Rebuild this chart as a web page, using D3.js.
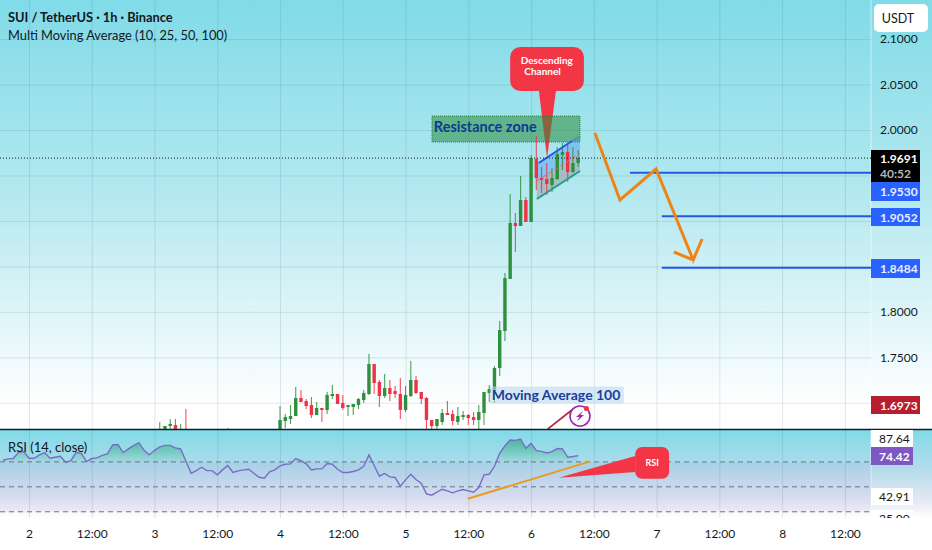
<!DOCTYPE html>
<html>
<head>
<meta charset="utf-8">
<script src="https://cdn.jsdelivr.net/npm/d3@7"></script>
<style>
  html, body { margin: 0; padding: 0; background: #fff; }
  svg { display: block; }
  text { font-family: Lato, sans-serif; fill: #131722; }
</style>
</head>
<body>
<svg id="chart" width="932" height="550"></svg>
<script>
// hourly candles, hour 0 = day 2 00:00
const candleHours = [25, 26, 27, 28, 29, 30, 38,
  48, 49, 50, 51, 52, 53, 54, 55, 56, 57, 58, 59, 60, 61, 62, 63, 64, 65, 66, 67, 68, 69, 70, 71, 72, 73, 74, 75, 76,
  77, 78, 79, 80, 81, 82, 83, 84, 85, 86, 87, 88, 89, 90, 91, 92, 93, 94, 95, 96, 97, 98, 99, 100, 101, 102, 103, 104, 105];
const candleOpen = [1.6656, 1.6645, 1.6744, 1.6755, 1.6656, 1.6689, 1.6656,
  1.6645, 1.6799, 1.6821, 1.6854, 1.7052, 1.7019, 1.6975, 1.6865, 1.6942, 1.692, 1.7074, 1.7096, 1.6997, 1.6953, 1.6953, 1.6975, 1.703, 1.7096, 1.7426, 1.7228, 1.7074, 1.7162, 1.7129, 1.7096, 1.692, 1.7074, 1.725, 1.7118, 1.7052,
  1.681, 1.6744, 1.6788, 1.6887, 1.6876, 1.6788, 1.6843, 1.6865, 1.6843, 1.681, 1.6887, 1.7107, 1.7129, 1.7382, 1.7789, 1.8361, 1.8977, 1.8944, 1.923, 1.8988, 1.9681, 1.9472, 1.9461, 1.9395, 1.9461, 1.9725, 1.9758, 1.9538, 1.9637];
const candleHigh = [1.6788, 1.6744, 1.6821, 1.6821, 1.6766, 1.6931, 1.6722,
  1.6964, 1.6876, 1.6975, 1.7173, 1.714, 1.7041, 1.7063, 1.7008, 1.6942, 1.7118, 1.7195, 1.7096, 1.7085, 1.6975, 1.6986, 1.7052, 1.714, 1.7536, 1.7426, 1.725, 1.7316, 1.725, 1.7184, 1.7272, 1.7184, 1.7459, 1.7294, 1.7118, 1.7063,
  1.681, 1.6821, 1.6931, 1.7019, 1.692, 1.6953, 1.6909, 1.6876, 1.6898, 1.6975, 1.7118, 1.7195, 1.7404, 1.7899, 1.8427, 1.9296, 1.9087, 1.9494, 1.9263, 1.9725, 1.9934, 1.9593, 1.9637, 1.9582, 1.9813, 1.9857, 1.9857, 1.9813, 1.978];
const candleLow = [1.6634, 1.6634, 1.6678, 1.6634, 1.6634, 1.6634, 1.6634,
  1.6623, 1.6722, 1.6766, 1.6854, 1.7008, 1.6931, 1.6832, 1.6865, 1.6788, 1.6876, 1.7041, 1.6986, 1.692, 1.6854, 1.6865, 1.6931, 1.6997, 1.7085, 1.7096, 1.6953, 1.7052, 1.7019, 1.7052, 1.6821, 1.6898, 1.7063, 1.7096, 1.6986, 1.67,
  1.67, 1.67, 1.6755, 1.6865, 1.6755, 1.6755, 1.681, 1.6755, 1.6755, 1.6667, 1.6755, 1.7008, 1.6997, 1.7294, 1.7679, 1.8361, 1.8658, 1.8944, 1.8988, 1.8988, 1.934, 1.9307, 1.9285, 1.9318, 1.945, 1.956, 1.9428, 1.9527, 1.9593];
const candleClose = [1.67, 1.6744, 1.6766, 1.6678, 1.67, 1.6656, 1.6689,
  1.681, 1.6843, 1.6854, 1.7052, 1.7008, 1.6964, 1.6865, 1.6942, 1.692, 1.7085, 1.7096, 1.6986, 1.6942, 1.6975, 1.6986, 1.7041, 1.7107, 1.7426, 1.7217, 1.7074, 1.7162, 1.7096, 1.7096, 1.692, 1.7085, 1.725, 1.7107, 1.7041, 1.681,
  1.6744, 1.6821, 1.6887, 1.6865, 1.6799, 1.6854, 1.6865, 1.6832, 1.681, 1.6898, 1.7118, 1.7151, 1.7382, 1.78, 1.8372, 1.8977, 1.8944, 1.923, 1.8988, 1.9692, 1.9472, 1.945, 1.9406, 1.9472, 1.9736, 1.9758, 1.9538, 1.9637, 1.9692];

// rsi, one value per hour from rsiStartHour
const rsiStartHour = -5;
const rsiValues = [71.1, 72.4, 72.7, 77.7, 78.3, 72.9, 72.9, 75.6, 77.5, 72.9, 73.7, 74.5, 69.7, 70.8, 77.7, 76.9, 70.3, 72.7, 73.2, 75.3, 76.4,
  83.6, 83.9, 77.5, 80.4, 83.1, 85.5, 79.3, 75.6, 79.3, 82, 83.3, 83.3, 81.2, 80.4, 70.8, 60.9, 63, 65.7, 63, 63, 59.6, 63.6, 67.1, 61.5, 62.8,
  63.6, 64.1, 60.9, 57.7, 56.9, 62, 63.6, 66.8, 68.1, 68.4, 72.7, 71.1, 68.4, 63.6, 64.4, 64.4, 68.7,
  68.1, 64.1, 61.5, 61.5, 62.3, 63.6, 66.5, 75.6, 67.1, 58.5, 60.7, 58, 57.5, 50.5, 55.6, 60.1, 55.9, 52.9, 44.4, 43.3, 45.7, 48.1, 46.8, 45.2,
  46.8, 47.9, 46.8, 45.7, 49.5, 59.6, 60.1, 66.5, 76.9, 83.1, 87.6, 87.3, 88.4, 80.9, 84.9, 79, 78.5, 77.2, 78.3, 80.7, 80.4, 73.7, 74.3, 75];

const priceTicks = [2.1, 2.05, 2, 1.95, 1.9, 1.85, 1.8, 1.75, 1.7];
const priceTickLabels = ["2.1000", "2.0500", "2.0000", "", "", "", "1.8000", "1.7500", ""];
const timeTicks = [0, 12, 24, 36, 48, 60, 72, 84, 96, 108, 120, 132, 144, 156];
const timeLabels = ["2", "12:00", "3", "12:00", "4", "12:00", "5", "12:00", "6", "12:00", "7", "12:00", "8", "12:00"];
const rsiLevels = [70, 50, 30];

const lastPrice = 1.9691;
const levelPrices = [1.953, 1.9052, 1.8484];
const levelStartHours = [114.9, 121, 121];
// zigzag, last three points are the arrow head
const arrowHours = [108.2, 113, 119.9, 127, 128.7, 127, 123.3];
const arrowPrices = [1.9967, 1.923, 1.9571, 1.857, 1.8801, 1.857, 1.8658];
const channelHours = [97.1, 105.35];
const channelTop = [1.9637, 1.9934];
const channelBottom = [1.9241, 1.9549];
const zoneHours = [77.05, 105.35];
const zonePrices = [2.0154, 1.9868];
const rsiTrendHours = [83.9, 107.3];
const rsiTrendValues = [40.4, 70.4];

const svg = d3.select("#chart"),
    width = 932,
    height = 550,
    paneRight = 871,
    mainBottom = 429,
    rsiBottom = 518;

const x = d3.scaleLinear().domain([0, 100]).range([29, 552]);
const y = d3.scaleLinear().domain([2.143, 1.6711]).range([0, mainBottom]);
const yRsi = d3.scaleLinear().domain([95.6, 25]).range([430, rsiBottom]);

const defs = svg.append("defs");

function addGradient(id, y1, y2, stops) {
    const g = defs.append("linearGradient").attr("id", id)
        .attr("gradientUnits", "userSpaceOnUse")
        .attr("x1", 0).attr("x2", 0).attr("y1", y1).attr("y2", y2);
    stops.forEach(s => g.append("stop").attr("offset", s[0]).attr("stop-color", s[1]).attr("stop-opacity", s[2] === undefined ? 1 : s[2]));
}
addGradient("mainBg", 0, 405, [[0, "#80dbe8"], [0.5, "#b6e9f0"], [0.8, "#e2f6f9"], [1, "#ffffff"]]);
addGradient("rsiBg", 430, rsiBottom, [[0, "#80dbe8"], [0.45, "#b4dcea"], [0.8, "#e4e8f4"], [1, "#ffffff"]]);
addGradient("rsiGreen", 438, 462, [[0, "#26a269", 0.65], [1, "#26a269", 0.05]]);

defs.append("clipPath").attr("id", "mainClip").append("rect")
    .attr("width", paneRight).attr("height", mainBottom);
defs.append("clipPath").attr("id", "aboveSeventy").append("rect")
    .attr("width", paneRight).attr("y", 430).attr("height", yRsi(70) - 430);
defs.append("clipPath").attr("id", "rsiAxisClip").append("rect")
    .attr("x", paneRight).attr("y", 430).attr("width", 61).attr("height", rsiBottom - 430);

svg.append("rect").attr("width", width).attr("height", height).attr("fill", "#fff");
svg.append("rect").attr("width", width).attr("height", mainBottom).attr("fill", "url(#mainBg)");
svg.append("rect").attr("y", 430).attr("width", width).attr("height", rsiBottom - 430).attr("fill", "url(#rsiBg)");

// grid
const gridColor = "rgba(70,110,125,0.16)";
svg.append("g")
    .attr("transform", `translate(0,${rsiBottom})`)
    .call(d3.axisBottom(x).tickValues(timeTicks).tickSize(-rsiBottom).tickFormat(""))
    .call(g => g.select(".domain").remove())
    .call(g => g.selectAll("line").attr("stroke", gridColor));
svg.append("g")
    .call(d3.axisRight(y).tickValues(priceTicks).tickSize(paneRight).tickFormat(""))
    .call(g => g.select(".domain").remove())
    .call(g => g.selectAll("line").attr("stroke", gridColor));
svg.append("line").attr("x1", paneRight).attr("x2", paneRight).attr("y1", 0).attr("y2", rsiBottom)
    .attr("stroke", "rgba(255,255,255,0.55)");

// candles
const candles = candleHours.map((h, i) => ({
    h, open: candleOpen[i], high: candleHigh[i], low: candleLow[i], close: candleClose[i]
}));
const candleColor = d => d.close >= d.open ? "#2f8f3e" : "#ee3348";
const main = svg.append("g").attr("clip-path", "url(#mainClip)");

// callout tail sits under the zone
const tailHours = [97.5, 100.75, 99.05];
const tailPrices = [2.0429, 2.0429, 1.9692];
main.append("polygon")
    .attr("points", tailHours.map((h, i) => [x(h), y(tailPrices[i])].join(",")).join(" "))
    .attr("fill", "#f23645");

// resistance zone
main.append("rect")
    .attr("x", x(zoneHours[0])).attr("y", y(zonePrices[0]))
    .attr("width", x(zoneHours[1]) - x(zoneHours[0]))
    .attr("height", y(zonePrices[1]) - y(zonePrices[0]))
    .attr("fill", "rgba(46,140,60,0.55)")
    .attr("stroke", "#2e8040").attr("stroke-dasharray", "1,1");

// channel fills, upper half blue, lower half grey
const channelMid = [(channelTop[0] + channelBottom[0]) / 2, (channelTop[1] + channelBottom[1]) / 2];
const band = (a, b) => [
    [x(channelHours[0]), y(a[0])], [x(channelHours[1]), y(a[1])],
    [x(channelHours[1]), y(b[1])], [x(channelHours[0]), y(b[0])]
].join(" ");
main.append("polygon").attr("points", band(channelTop, channelMid)).attr("fill", "rgba(66,140,245,0.38)");
main.append("polygon").attr("points", band(channelMid, channelBottom)).attr("fill", "rgba(150,130,130,0.4)");

main.selectAll("line.wick")
    .data(candles)
    .enter().append("line")
    .attr("class", "wick")
    .attr("x1", d => x(d.h)).attr("x2", d => x(d.h))
    .attr("y1", d => y(d.high)).attr("y2", d => y(d.low))
    .attr("stroke", candleColor).attr("stroke-width", 1.1).attr("stroke-opacity", 0.85);
main.selectAll("rect.body")
    .data(candles)
    .enter().append("rect")
    .attr("class", "body")
    .attr("x", d => x(d.h) - 1.7)
    .attr("width", 3.4)
    .attr("y", d => y(Math.max(d.open, d.close)))
    .attr("height", d => Math.max(1, Math.abs(y(d.open) - y(d.close))))
    .attr("fill", candleColor);

// channel lines
main.append("line").attr("x1", x(channelHours[0])).attr("x2", x(channelHours[1]))
    .attr("y1", y(channelMid[0])).attr("y2", y(channelMid[1]))
    .attr("stroke", "#ee5a6a").attr("stroke-width", 1).attr("stroke-dasharray", "4,3");
main.append("line").attr("x1", x(channelHours[0]) + 2).attr("x2", x(channelHours[1]) - 8)
    .attr("y1", y(channelTop[0])).attr("y2", y(channelTop[1] - 0.0055))
    .attr("stroke", "#2457e6").attr("stroke-width", 2);
main.append("line").attr("x1", x(channelHours[1]) - 8).attr("x2", x(channelHours[1]))
    .attr("y1", y(channelTop[1] - 0.0055)).attr("y2", y(channelTop[1]))
    .attr("stroke", "#4f9a9a").attr("stroke-width", 2);
main.append("line").attr("x1", x(channelHours[0])).attr("x2", x(channelHours[1]))
    .attr("y1", y(channelBottom[0])).attr("y2", y(channelBottom[1]))
    .attr("stroke", "#1f9d8a").attr("stroke-width", 2);

// last price
main.append("line").attr("x1", 0).attr("x2", paneRight)
    .attr("y1", y(lastPrice)).attr("y2", y(lastPrice))
    .attr("stroke", "#131722").attr("stroke-width", 1).attr("stroke-dasharray", "1,2");

// target levels
main.selectAll("line.level")
    .data(levelPrices)
    .enter().append("line")
    .attr("class", "level")
    .attr("x1", (d, i) => x(levelStartHours[i])).attr("x2", paneRight)
    .attr("y1", d => y(d)).attr("y2", d => y(d))
    .attr("stroke", "#2457e6").attr("stroke-width", 2);

// orange path
main.append("path")
    .datum(arrowHours.map((h, i) => [h, arrowPrices[i]]))
    .attr("fill", "none")
    .attr("stroke", "#ee8418").attr("stroke-width", 3)
    .attr("d", d3.line().x(d => x(d[0])).y(d => y(d[1])));

// callout box
const boxHours = [92, 106.1];
const boxPrices = [2.0913, 2.0429];
main.append("rect")
    .attr("x", x(boxHours[0])).attr("y", y(boxPrices[0]))
    .attr("width", x(boxHours[1]) - x(boxHours[0]))
    .attr("height", y(boxPrices[1]) - y(boxPrices[0]))
    .attr("rx", 10).attr("fill", "#f23645");
main.append("text").attr("x", x(99)).attr("y", y(2.0727)).attr("text-anchor", "middle")
    .style("fill", "#fff").style("font-size", "10px").style("font-weight", 700).text("Descending");
main.append("text").attr("x", x(98.2)).attr("y", y(2.06)).attr("text-anchor", "middle")
    .style("fill", "#fff").style("font-size", "10px").style("font-weight", 700).text("Channel");

main.append("text").attr("x", x(77.4)).attr("y", y(1.9975))
    .style("fill", "#0c3c8c").style("font-size", "14.5px").style("font-weight", 700).text("Resistance zone");

// moving average note
main.append("rect").attr("x", x(88.1)).attr("y", y(1.7179))
    .attr("width", 134).attr("height", 17).attr("rx", 2)
    .attr("fill", "rgba(190,215,240,0.6)");
main.append("text").attr("x", x(88.5)).attr("y", y(1.7031))
    .style("fill", "#173f96").style("font-size", "14px").style("font-weight", 700)
    .text("Moving Average 100");
main.append("line").attr("x1", x(99.2)).attr("x2", x(103.8))
    .attr("y1", y(1.6711)).attr("y2", y(1.692))
    .attr("stroke", "#b3263f").attr("stroke-width", 1.6);
const icon = main.append("g").attr("transform", `translate(${x(105.35)},${y(1.6854)})`);
icon.append("circle").attr("r", 10).attr("fill", "rgba(255,255,255,0.5)").attr("stroke", "#9c27b0").attr("stroke-width", 1.6);
icon.append("path").attr("d", "M3,-5 L-4,1 L-0.5,1 L-3,5.5 L4,-1 L0.5,-1 Z").attr("fill", "#9c27b0");
icon.append("circle").attr("cx", 6.5).attr("cy", -7.5).attr("r", 2.6).attr("fill", "#f23645");

// rsi pane
svg.append("rect").attr("y", yRsi(70)).attr("width", paneRight)
    .attr("height", yRsi(30) - yRsi(70)).attr("fill", "rgba(126,87,194,0.07)");
svg.selectAll("line.rsiLevel")
    .data(rsiLevels)
    .enter().append("line")
    .attr("class", "rsiLevel")
    .attr("x1", 0).attr("x2", paneRight)
    .attr("y1", d => yRsi(d)).attr("y2", d => yRsi(d))
    .attr("stroke", "#6a7482").attr("stroke-dasharray", "5,4");

const rsiData = rsiValues.map((v, i) => [rsiStartHour + i, v]);
svg.append("path").datum(rsiData)
    .attr("clip-path", "url(#aboveSeventy)")
    .attr("fill", "url(#rsiGreen)")
    .attr("d", d3.area().x(d => x(d[0])).y0(yRsi(70)).y1(d => yRsi(d[1])));
svg.append("path").datum(rsiData)
    .attr("fill", "none")
    .attr("stroke", "#7a6cc6").attr("stroke-width", 1.4)
    .attr("d", d3.line().x(d => x(d[0])).y(d => yRsi(d[1])));

svg.append("line")
    .attr("x1", x(rsiTrendHours[0])).attr("x2", x(rsiTrendHours[1]))
    .attr("y1", yRsi(rsiTrendValues[0])).attr("y2", yRsi(rsiTrendValues[1]))
    .attr("stroke", "#ec9a22").attr("stroke-width", 2);

// rsi callout
const rsiBoxHours = [115.9, 122.4];
const rsiBoxValues = [82, 56.4];
svg.append("polygon")
    .attr("points", [[x(115.9), yRsi(74.8)], [x(115.9), yRsi(62)], [x(101.3), yRsi(57.2)]].join(" "))
    .attr("fill", "#f23645");
svg.append("rect")
    .attr("x", x(rsiBoxHours[0])).attr("y", yRsi(rsiBoxValues[0]))
    .attr("width", x(rsiBoxHours[1]) - x(rsiBoxHours[0]))
    .attr("height", yRsi(rsiBoxValues[1]) - yRsi(rsiBoxValues[0]))
    .attr("rx", 7).attr("fill", "#f23645");
svg.append("text").attr("x", x(119.15)).attr("y", yRsi(67)).attr("text-anchor", "middle")
    .style("fill", "#fff").style("font-size", "9px").style("font-weight", 700).text("RSI");

// divider between panes
svg.append("line").attr("x1", 0).attr("x2", width).attr("y1", mainBottom + 0.5).attr("y2", mainBottom + 0.5)
    .attr("stroke", "#131c2e").attr("stroke-width", 1.5);

// price axis
const tickFormat = (d, i) => priceTickLabels[i];
svg.append("g")
    .attr("transform", `translate(${paneRight},0)`)
    .call(d3.axisRight(y).tickValues(priceTicks).tickSize(0).tickPadding(9).tickFormat(tickFormat))
    .call(g => g.select(".domain").remove())
    .call(g => g.selectAll("text").style("font-size", "12px").style("font-family", "Lato, sans-serif").attr("fill", "#131722"));

function priceTag(top, h, fill, label, color, w) {
    svg.append("rect").attr("x", paneRight).attr("y", top).attr("width", w).attr("height", h).attr("fill", fill);
    if (label) {
        svg.append("text").attr("x", paneRight + 9).attr("y", top + h / 2 + 4.5)
            .style("fill", color).style("font-size", "12px").style("font-weight", 700).text(label);
    }
}
priceTag(150, 32, "#000", "", "#fff", 49);
svg.append("text").attr("x", paneRight + 9).attr("y", 163).style("fill", "#fff").style("font-size", "12px").style("font-weight", 700).text("1.9691");
svg.append("text").attr("x", paneRight + 9).attr("y", 178).style("fill", "#b5b5b5").style("font-size", "12px").style("font-weight", 700).text("40:52");
priceTag(182, 19, "#2962ff", "1.9530", "#e8eeff", 49);
priceTag(208, 18, "#2962ff", "1.9052", "#e8eeff", 49);
priceTag(259, 19, "#2962ff", "1.8484", "#e8eeff", 49);
priceTag(396, 18, "#b71c2f", "1.6973", "#fff", 49);

// usdt button
svg.append("rect").attr("x", 874).attr("y", 4).attr("width", 54).attr("height", 28).attr("rx", 5).attr("fill", "#fff");
svg.append("text").attr("x", 898).attr("y", 23).attr("text-anchor", "middle").style("font-size", "12.5px").text("USDT");

// rsi axis labels
const rsiAxis = svg.append("g").attr("clip-path", "url(#rsiAxisClip)");
[[430, 17, "87.64"], [488, 17, "42.91"], [510, 16, "25.00"]].forEach(r => {
    rsiAxis.append("rect").attr("x", paneRight).attr("y", r[0]).attr("width", 42).attr("height", r[1]).attr("fill", "#fff");
    rsiAxis.append("text").attr("x", paneRight + 8).attr("y", r[0] + 13).style("font-size", "12px").text(r[2]);
});
svg.append("rect").attr("x", paneRight).attr("y", 447).attr("width", 42).attr("height", 18).attr("fill", "#7e57c2");
svg.append("text").attr("x", paneRight + 8).attr("y", 461).style("fill", "#fff").style("font-size", "12px").style("font-weight", 700).text("74.42");

// time axis
svg.append("g")
    .attr("transform", `translate(0,${rsiBottom})`)
    .call(d3.axisBottom(x).tickValues(timeTicks).tickSize(0).tickPadding(11).tickFormat((d, i) => timeLabels[i]))
    .call(g => g.select(".domain").remove())
    .call(g => g.selectAll("text").style("font-size", "12px").style("font-family", "Lato, sans-serif").attr("fill", "#131722"));

// legends
svg.append("text").attr("x", 8).attr("y", 22).style("font-size", "12.8px").style("font-weight", 700).text("SUI / TetherUS · 1h · Binance");
svg.append("text").attr("x", 8).attr("y", 40).style("font-size", "12.8px").text("Multi Moving Average (10, 25, 50, 100)");
svg.append("text").attr("x", 8).attr("y", 452).style("font-size", "13px").text("RSI (14, close)");
</script>
</body>
</html>
